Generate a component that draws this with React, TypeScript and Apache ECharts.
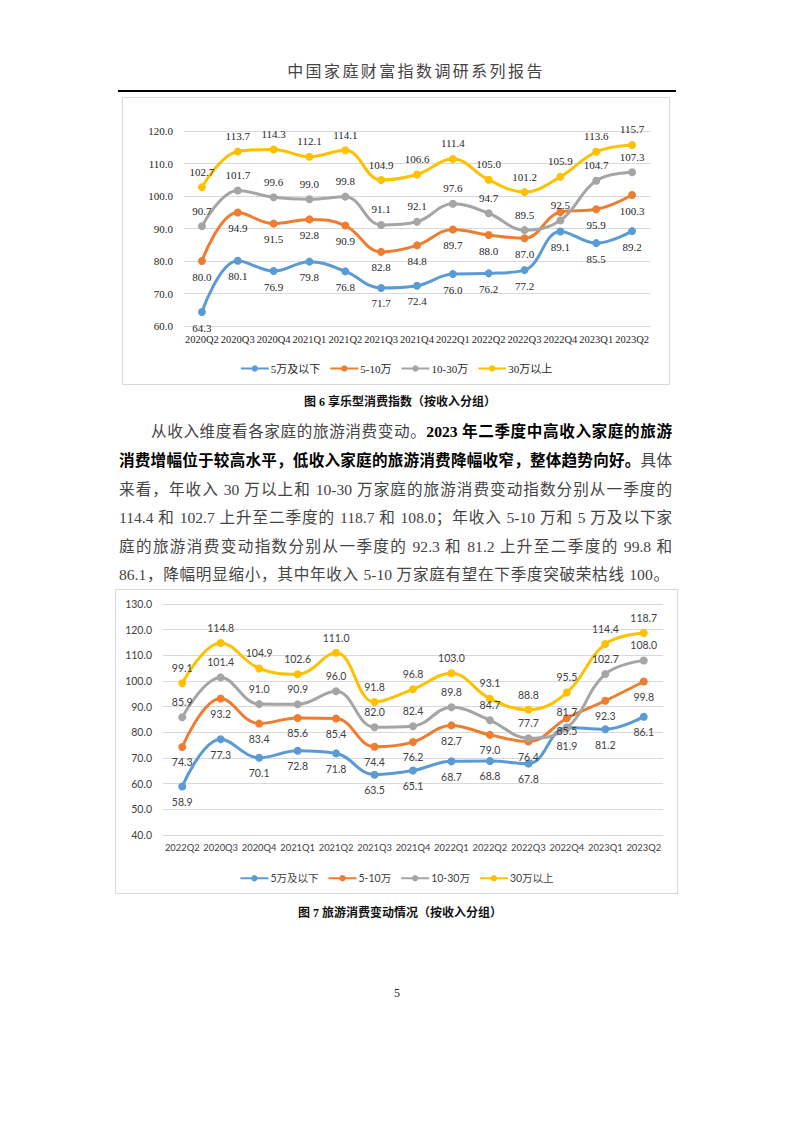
import React, { useEffect, useRef } from "react";
import * as echarts from "echarts";

// ---------- Data: Figure 6 ----------
const cats1 = ["2020Q2", "2020Q3", "2020Q4", "2021Q1", "2021Q2", "2021Q3", "2021Q4", "2022Q1", "2022Q2", "2022Q3", "2022Q4", "2023Q1", "2023Q2"];
const low1 = [64.3, 80.1, 76.9, 79.8, 76.8, 71.7, 72.4, 76.0, 76.2, 77.2, 89.1, 85.5, 89.2];
const mid1 = [80.0, 94.9, 91.5, 92.8, 90.9, 82.8, 84.8, 89.7, 88.0, 87.0, 95.1, 95.9, 100.3];
const upper1 = [90.7, 101.7, 99.6, 99.0, 99.8, 91.1, 92.1, 97.6, 94.7, 89.5, 92.5, 104.7, 107.3];
const high1 = [102.7, 113.7, 114.3, 112.1, 114.1, 104.9, 106.6, 111.4, 105.0, 101.2, 105.9, 113.6, 115.7];

// ---------- Data: Figure 7 ----------
const cats2 = ["2022Q2", "2020Q3", "2020Q4", "2021Q1", "2021Q2", "2021Q3", "2021Q4", "2022Q1", "2022Q2", "2022Q3", "2022Q4", "2023Q1", "2023Q2"];
const low2 = [58.9, 77.3, 70.1, 72.8, 71.8, 63.5, 65.1, 68.7, 68.8, 67.8, 81.9, 81.2, 86.1];
const mid2 = [74.3, 93.2, 83.4, 85.6, 85.4, 74.4, 76.2, 82.7, 79.0, 76.4, 85.5, 92.3, 99.8];
const upper2 = [85.9, 101.4, 91.0, 90.9, 96.0, 82.0, 82.4, 89.8, 84.7, 77.7, 81.7, 102.7, 108.0];
const high2 = [99.1, 114.8, 104.9, 102.6, 111.0, 91.8, 96.8, 103.0, 93.1, 88.8, 95.5, 114.4, 118.7];

const seriesNames = ["5万及以下", "5-10万", "10-30万", "30万以上"];
const colors = ["#5B9BD5", "#ED7D31", "#A5A5A5", "#FFC000"];
const labelPos = ["bottom", "bottom", "top", "top"];

// label tweaks: [seriesIndex, pointIndex, hide, dy]
type Tweak = [number, number, boolean, number];
const tweaks1: Tweak[] = [[1, 10, true, 0]];
const tweaks2: Tweak[] = [
  [0, 10, false, 3],
  [1, 10, false, -2],
  [2, 10, false, -1],
];

function buildSeries(lists: number[][], font: string, fontSize: number, textColor: string, tweaks: Tweak[]) {
  return lists.map((vals, si) => ({
    name: seriesNames[si],
    type: "line",
    smooth: 0.4,
    symbol: "circle",
    symbolSize: 8,
    lineStyle: { width: 3, color: colors[si] },
    itemStyle: { color: colors[si] },
    label: {
      show: true,
      position: labelPos[si],
      distance: 6,
      fontFamily: font,
      fontSize,
      color: textColor,
      formatter: (p: any) => Number(p.value).toFixed(1),
    },
    data: vals.map((v, i) => {
      const t = tweaks.find((k) => k[0] === si && k[1] === i);
      if (!t) return v;
      return t[2] ? { value: v, label: { show: false } } : { value: v, label: { offset: [0, t[3]] } };
    }),
  }));
}

function makeOption(
  cats: string[],
  lists: number[][],
  min: number,
  max: number,
  grid: any,
  legendTop: number,
  font: string,
  fontSize: number,
  xFontSize: number,
  textColor: string,
  tweaks: Tweak[]
) {
  return {
    animation: false,
    color: colors,
    grid,
    legend: {
      top: legendTop,
      left: "center",
      itemWidth: 28,
      itemHeight: 8,
      itemGap: 9,
      textStyle: { fontFamily: font, fontSize, color: textColor, padding: [0, 0, 0, -3] },
      data: seriesNames,
    },
    xAxis: {
      type: "category",
      data: cats,
      boundaryGap: true,
      axisLine: { show: true, lineStyle: { color: "#d9d9d9", width: 1 } },
      axisTick: { show: false },
      axisLabel: {
        interval: 0,
        margin: 8,
        fontFamily: font,
        fontSize: xFontSize,
        color: textColor,
      },
    },
    yAxis: {
      type: "value",
      min,
      max,
      interval: 10,
      axisLine: { show: false },
      axisTick: { show: false },
      splitLine: { lineStyle: { color: "#d9d9d9", width: 1 } },
      axisLabel: {
        margin: 11,
        fontFamily: font,
        fontSize,
        color: textColor,
        formatter: (v: number) => v.toFixed(1),
      },
    },
    series: buildSeries(lists, font, fontSize, textColor, tweaks),
  };
}

function Chart({ option, style }: { option: any; style: React.CSSProperties }) {
  const ref = useRef<HTMLDivElement>(null);
  useEffect(() => {
    if (!ref.current) return;
    const chart = echarts.init(ref.current, undefined, { renderer: "svg" });
    chart.setOption(option);
    return () => chart.dispose();
  }, []);
  return <div ref={ref} style={style} />;
}

const bodyFont = '"Liberation Serif", "Noto Sans CJK SC", serif';

const lineStyleBase: React.CSSProperties = {
  position: "absolute",
  left: 119,
  width: 557,
  fontSize: 15.6,
  lineHeight: "20px",
  fontFamily: bodyFont,
  color: "#444",
  textAlign: "justify",
  textAlignLast: "justify" as any,
  whiteSpace: "nowrap",
};

const boldStyle: React.CSSProperties = { fontWeight: 700, color: "#000" };

export default function App() {
  const serif1 = '"Liberation Serif", "Noto Sans CJK SC", serif';
  const sans2 = 'Lato, "Noto Sans CJK SC", sans-serif';

  const option1 = makeOption(
    cats1,
    [low1, mid1, upper1, high1],
    60,
    120,
    { left: 61, right: 19, top: 33, bottom: 58 },
    260,
    serif1,
    11,
    10.5,
    "#262626",
    tweaks1
  );
  const option2 = makeOption(
    cats2,
    [low2, mid2, upper2, high2],
    40,
    130,
    { left: 47, right: 14, top: 14, bottom: 58 },
    278,
    sans2,
    10.5,
    9.4,
    "#404040",
    tweaks2
  );

  return (
    <div style={{ position: "absolute", left: 0, top: 0, width: 793, height: 1122, background: "#fff" }}>
      {/* Header */}
      <div
        style={{
          position: "absolute",
          left: 250,
          width: 332,
          top: 59,
          textAlign: "center",
          fontFamily: '"Noto Sans CJK SC", sans-serif',
          fontSize: 16,
          letterSpacing: "2.4px",
          color: "#444",
          lineHeight: "22px",
        }}
      >
        中国家庭财富指数调研系列报告
      </div>
      <div style={{ position: "absolute", left: 118, top: 90, width: 558, height: 1.5, background: "#000" }} />

      {/* Figure 6 */}
      <Chart
        option={option1}
        style={{
          position: "absolute",
          left: 122,
          top: 97,
          width: 546,
          height: 286,
          border: "1px solid #d9d9d9",
        }}
      />
      <div
        style={{
          position: "absolute",
          left: 200,
          width: 400,
          top: 393,
          textAlign: "center",
          fontFamily: bodyFont,
          fontSize: 12,
          fontWeight: 700,
          color: "#111",
          lineHeight: "18px",
        }}
      >
        图 6 享乐型消费指数（按收入分组）
      </div>

      {/* Paragraph */}
      <div style={{ ...lineStyleBase, top: 422, left: 151, width: 521 }}>
        从收入维度看各家庭的旅游消费变动。<b style={boldStyle}>2023 年二季度中高收入家庭的旅游</b>
      </div>
      <div style={{ ...lineStyleBase, top: 451, width: 553 }}>
        <b style={boldStyle}>消费增幅位于较高水平，低收入家庭的旅游消费降幅收窄，整体趋势向好。</b>具体
      </div>
      <div style={{ ...lineStyleBase, top: 480, width: 553 }}>
        来看，年收入 30 万以上和 10-30 万家庭的旅游消费变动指数分别从一季度的
      </div>
      <div style={{ ...lineStyleBase, top: 508, width: 553 }}>
        114.4 和 102.7 上升至二季度的 118.7 和 108.0；年收入 5-10 万和 5 万及以下家
      </div>
      <div style={{ ...lineStyleBase, top: 537, width: 553 }}>
        庭的旅游消费变动指数分别从一季度的 92.3 和 81.2 上升至二季度的 99.8 和
      </div>
      <div style={{ ...lineStyleBase, top: 565, width: 550 }}>
        86.1，降幅明显缩小，其中年收入 5-10 万家庭有望在下季度突破荣枯线 100。
      </div>

      {/* Figure 7 */}
      <Chart
        option={option2}
        style={{
          position: "absolute",
          left: 115,
          top: 589,
          width: 561,
          height: 303,
          border: "1px solid #d9d9d9",
        }}
      />
      <div
        style={{
          position: "absolute",
          left: 200,
          width: 400,
          top: 904,
          textAlign: "center",
          fontFamily: bodyFont,
          fontSize: 12,
          fontWeight: 700,
          color: "#111",
          lineHeight: "18px",
        }}
      >
        图 7 旅游消费变动情况（按收入分组）
      </div>

      {/* Page number */}
      <div
        style={{
          position: "absolute",
          left: 380,
          width: 34,
          top: 985,
          textAlign: "center",
          fontFamily: bodyFont,
          fontSize: 12,
          color: "#222",
          lineHeight: "16px",
        }}
      >
        5
      </div>
    </div>
  );
}
